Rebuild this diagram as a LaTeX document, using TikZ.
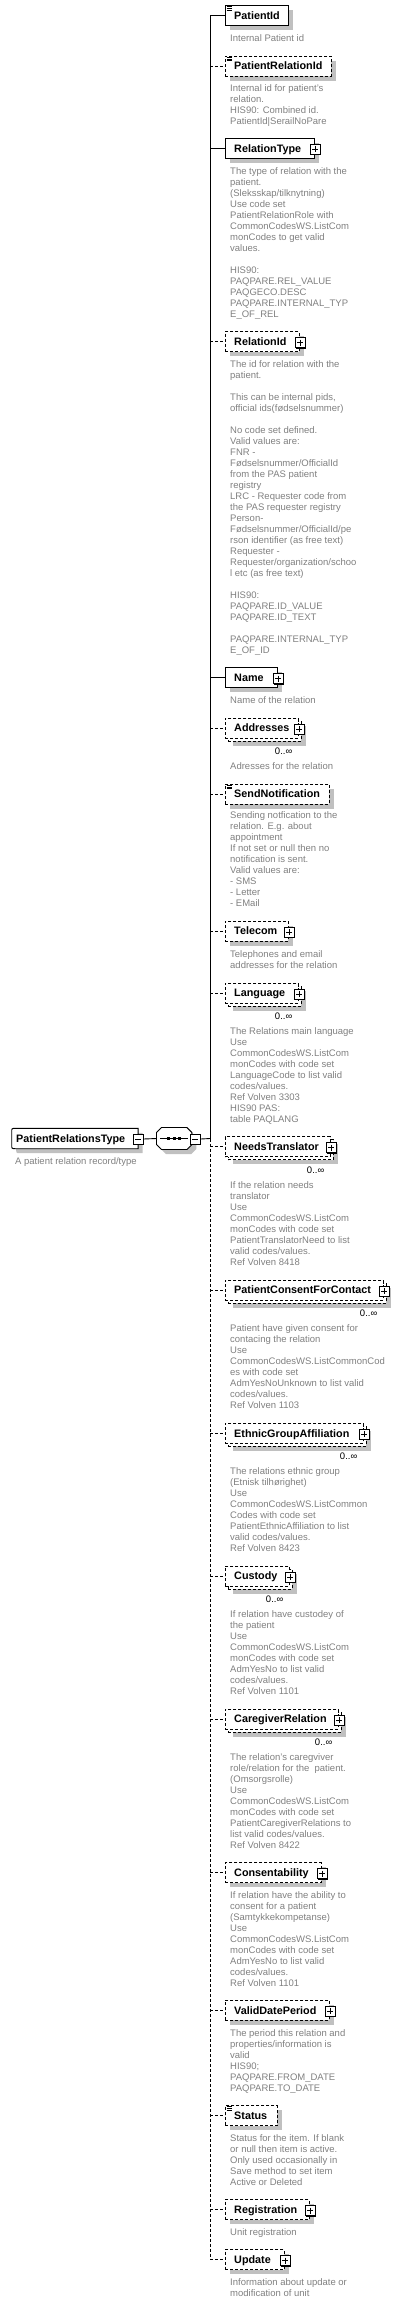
\documentclass[tikz,border=0pt]{standalone}
\usepackage{fontspec}
\setmainfont{Liberation Sans}
\usetikzlibrary{shadows}
\definecolor{descgray}{RGB}{128,128,128}
\definecolor{shadowgray}{RGB}{192,192,192}
\newcommand\namefont{\fontsize{10.8pt}{13pt}\selectfont\bfseries}
\newcommand\descfont{\fontsize{9.5pt}{11pt}\selectfont}
\tikzset{
  ebox/.style={draw, line width=0.9pt, fill=white, minimum height=20pt, inner sep=0pt, anchor=west},
  optbox/.style={dash pattern=on 3pt off 2pt},
  shad/.style={drop shadow={shadow xshift=4.5pt, shadow yshift=-4.5pt, fill=shadowgray, opacity=1}},
  ename/.style={font=\namefont, inner sep=0pt, anchor=base west},
  desc/.style={font=\descfont, text=descgray, inner sep=0pt, anchor=north west, align=left},
  mult/.style={font=\descfont, inner sep=0pt, anchor=east},
  conn/.style={line width=0.9pt},
  optconn/.style={line width=0.9pt, dash pattern=on 3pt off 2pt},
  iconbase/.style={draw, line width=0.8pt, fill=white, minimum size=10pt, inner sep=0pt,
    drop shadow={shadow xshift=1pt, shadow yshift=-1pt, fill=black, opacity=1}},
  plusicon/.style={iconbase, path picture={
    \draw[line width=0.8pt] ([xshift=2pt]path picture bounding box.west) -- ([xshift=-2pt]path picture bounding box.east);
    \draw[line width=0.8pt] ([yshift=-2pt]path picture bounding box.north) -- ([yshift=2pt]path picture bounding box.south);}},
  minusicon/.style={iconbase, path picture={
    \draw[line width=0.8pt] ([xshift=2pt]path picture bounding box.west) -- ([xshift=-2pt]path picture bounding box.east);}},
}
\newcommand\ElemS[5]{%
  \node[ebox,shad,#2,minimum width={#4-225}] (#1) at (225,#3) {};
  \node[ename] (#1t) at ([xshift=9pt,yshift=-3.9pt]#1.west) {#5};
  \coordinate (#1s) at (210,#3);}
\newcommand\ElemM[4]{%
  \node[ebox,shad,optbox,minimum width={#3-225}] (#1b) at (228,#2+3) {};
  \node[ebox,optbox,minimum width={#3-225}] (#1) at (225,#2) {};
  \node[ename] (#1t) at ([xshift=9pt,yshift=-3.9pt]#1.west) {#4};
  \node[mult] (#1m) at (#3-5.5,#2+23.3) {0..∞};
  \coordinate (#1s) at (210,#2);}
\newcommand\PlusOn[1]{\node[plusicon] (#1p) at ([xshift=0.5pt,yshift=-1pt]#1.east) {};}
\newcommand\SimpleOn[1]{%
  \draw[line width=0.6pt] ([xshift=1.5pt,yshift=-1.6pt]#1.north west) -- ++(5pt,0pt);
  \draw[line width=0.6pt] ([xshift=1.5pt,yshift=-3.3pt]#1.north west) -- ++(5pt,0pt);
  \draw[line width=0.6pt] ([xshift=1.5pt,yshift=-5pt]#1.north west) -- ++(5pt,0pt);}
\newcommand\Desc[3]{\node[desc] (#1d) at (230,#2-4.4) {\strut #3};}
\begin{document}
\begin{tikzpicture}[x=1pt,y=-1pt]
\useasboundingbox (0,0) rectangle (400,2303);

% ---- root ----
\node[inner sep=0pt, minimum width=126pt, minimum height=20pt, anchor=west] (root) at (11.7,1138.5) {};
\begin{scope}[transform canvas={shift={(4.5pt,-4.5pt)}}]
\fill[shadowgray] (root.north east) -- ([xshift=4pt]root.north west) .. controls (root.north west) .. ([yshift=-4pt]root.north west)
  -- ([yshift=4pt]root.south west) .. controls (root.south west) .. ([xshift=4pt]root.south west) -- (root.south east) -- cycle;
\end{scope}
\draw[line width=0.9pt, fill=white] (root.north east) -- ([xshift=4pt]root.north west) .. controls (root.north west) .. ([yshift=-4pt]root.north west)
  -- ([yshift=4pt]root.south west) .. controls (root.south west) .. ([xshift=4pt]root.south west) -- (root.south east) -- cycle;
\node[ename] (roott) at ([xshift=4.3pt,yshift=-3.9pt]root.west) {PatientRelationsType};
\node[minusicon] (rootm) at ([yshift=-0.5pt]root.east) {};
\node[desc] (rootd) at (15,1160.7-4.4) {\strut A patient relation record/type};

% ---- sequence ----
\node[inner sep=0pt, minimum width=35pt, minimum height=21.6pt] (seq) at (174.2,1138.5) {};
\begin{scope}[transform canvas={shift={(4.5pt,-4.5pt)}}]
\fill[shadowgray] ([xshift=5pt]seq.north west) -- ([xshift=-5pt]seq.north east) -- ([yshift=-5pt]seq.north east) -- ([yshift=5pt]seq.south east)
  -- ([xshift=-5pt]seq.south east) -- ([xshift=5pt]seq.south west) -- ([yshift=5pt]seq.south west) -- ([yshift=-5pt]seq.north west) -- cycle;
\end{scope}
\draw[line width=0.9pt, fill=white] ([xshift=5pt]seq.north west) -- ([xshift=-5pt]seq.north east) -- ([yshift=-5pt]seq.north east) -- ([yshift=5pt]seq.south east)
  -- ([xshift=-5pt]seq.south east) -- ([xshift=5pt]seq.south west) -- ([yshift=5pt]seq.south west) -- ([yshift=-5pt]seq.north west) -- cycle;
\draw[line width=0.9pt] ([xshift=3.5pt]seq.west) -- ([xshift=-3.5pt]seq.east);
\fill ([xshift=-7pt,yshift=-1.5pt]seq.center) rectangle ([xshift=-4pt,yshift=1.5pt]seq.center);
\fill ([xshift=-1.5pt,yshift=-1.5pt]seq.center) rectangle ([xshift=1.5pt,yshift=1.5pt]seq.center);
\fill ([xshift=4pt,yshift=-1.5pt]seq.center) rectangle ([xshift=7pt,yshift=1.5pt]seq.center);
\node[minusicon] (seqm) at ([xshift=3.3pt,yshift=-0.5pt]seq.east) {};
\coordinate (sj) at (210,1138.5);
\draw[conn] (rootm.east) -- (seq.west);
\draw[conn] (seqm.east) -- (sj);

% ---- children ----
\ElemS{e1}{}{15.5}{288}{PatientId}\SimpleOn{e1}
\Desc{e1}{37.7}{Internal Patient id}

\ElemS{e2}{optbox}{66}{331}{PatientRelationId}\SimpleOn{e2}
\Desc{e2}{88}{Internal id for patient's\\relation.\\HIS90: Combined id.\\PatientId|SerailNoPare}

\ElemS{e3}{}{148.3}{314}{RelationType}\PlusOn{e3}
\Desc{e3}{170.7}{The type of relation with the\\patient.\\(Sleksskap/tilknytning)\\Use code set\\PatientRelationRole with\\CommonCodesWS.ListCom\\monCodes to get valid\\values.\\[11pt]HIS90:\\PAQPARE.REL\_VALUE\\PAQGECO.DESC\\PAQPARE.INTERNAL\_TYP\\E\_OF\_REL}

\ElemS{e4}{optbox}{341.7}{299}{RelationId}\PlusOn{e4}
\Desc{e4}{364}{The id for relation with the\\patient.\\[11pt]This can be internal pids,\\official ids(fødselsnummer)\\[11pt]No code set defined.\\Valid values are:\\FNR -\\Fødselsnummer/OfficialId\\from the PAS patient\\registry\\LRC - Requester code from\\the PAS requester registry\\Person-\\Fødselsnummer/OfficialId/pe\\rson identifier (as free text)\\Requester -\\Requester/organization/schoo\\l etc (as free text)\\[11pt]HIS90:\\PAQPARE.ID\_VALUE\\PAQPARE.ID\_TEXT\\[11pt]PAQPARE.INTERNAL\_TYP\\E\_OF\_ID}

\ElemS{e5}{}{677.5}{277}{Name}\PlusOn{e5}
\Desc{e5}{700}{Name of the relation}

\ElemM{e6}{728}{298}{Addresses}\PlusOn{e6}
\Desc{e6}{765.7}{Adresses for the relation}

\ElemS{e7}{optbox}{794}{329}{SendNotification}\SimpleOn{e7}
\Desc{e7}{815.3}{Sending notfication to the\\relation. E.g. about\\appointment\\If not set or null then no\\notification is sent.\\Valid values are:\\- SMS\\- Letter\\- EMail}

\ElemS{e8}{optbox}{931}{288}{Telecom}\PlusOn{e8}
\Desc{e8}{953.7}{Telephones and email\\addresses for the relation}

\ElemM{e9}{993}{298}{Language}\PlusOn{e9}
\Desc{e9}{1031}{The Relations main language\\Use\\CommonCodesWS.ListCom\\monCodes with code set\\LanguageCode to list valid\\codes/values.\\Ref Volven 3303\\HIS90 PAS:\\table PAQLANG}

\ElemM{e10}{1146.5}{330}{NeedsTranslator}\PlusOn{e10}
\Desc{e10}{1185}{If the relation needs\\translator\\Use\\CommonCodesWS.ListCom\\monCodes with code set\\PatientTranslatorNeed to list\\valid codes/values.\\Ref Volven 8418}

\ElemM{e11}{1290}{383}{PatientConsentForContact}\PlusOn{e11}
\Desc{e11}{1328.3}{Patient have given consent for\\contacing the relation\\Use\\CommonCodesWS.ListCommonCod\\es with code set\\AdmYesNoUnknown to list valid\\codes/values.\\Ref Volven 1103}

\ElemM{e12}{1433.3}{363}{EthnicGroupAffiliation}\PlusOn{e12}
\Desc{e12}{1471}{The relations ethnic group\\(Etnisk tilhørighet)\\Use\\CommonCodesWS.ListCommon\\Codes with code set\\PatientEthnicAffiliation to list\\valid codes/values.\\Ref Volven 8423}

\ElemM{e13}{1576}{289}{Custody}\PlusOn{e13}
\Desc{e13}{1614}{If relation have custodey of\\the patient\\Use\\CommonCodesWS.ListCom\\monCodes with code set\\AdmYesNo to list valid\\codes/values.\\Ref Volven 1101}

\ElemM{e14}{1719}{338}{CaregiverRelation}\PlusOn{e14}
\Desc{e14}{1756.7}{The relation's caregviver\\role/relation for the\ \ patient.\\(Omsorgsrolle)\\Use\\CommonCodesWS.ListCom\\monCodes with code set\\PatientCaregiverRelations to\\list valid codes/values.\\Ref Volven 8422}

\ElemS{e15}{optbox}{1872.5}{321}{Consentability}\PlusOn{e15}
\Desc{e15}{1895}{If relation have the ability to\\consent for a patient\\(Samtykkekompetanse)\\Use\\CommonCodesWS.ListCom\\monCodes with code set\\AdmYesNo to list valid\\codes/values.\\Ref Volven 1101}

\ElemS{e16}{optbox}{2010.3}{329}{ValidDatePeriod}\PlusOn{e16}
\Desc{e16}{2032.7}{The period this relation and\\properties/information is\\valid\\HIS90;\\PAQPARE.FROM\_DATE\\PAQPARE.TO\_DATE}

\ElemS{e17}{optbox}{2115.5}{277}{Status}\SimpleOn{e17}
\Desc{e17}{2137.7}{Status for the item. If blank\\or null then item is active.\\Only used occasionally in\\Save method to set item\\Active or Deleted}

\ElemS{e18}{optbox}{2209.5}{309}{Registration}\PlusOn{e18}
\Desc{e18}{2231.7}{Unit registration}

\ElemS{e19}{optbox}{2259.5}{284}{Update}\PlusOn{e19}
\Desc{e19}{2281.7}{Information about update or\\modification of unit}

% ---- spine & connectors ----
\draw[conn] (e1s) -- (sj);
\draw[optconn] (sj) -- (e19s);
\draw[conn] (e1s) -- (e1.west);
\draw[optconn] (e2s) -- (e2.west);
\draw[conn] (e3s) -- (e3.west);
\draw[optconn] (e4s) -- (e4.west);
\draw[conn] (e5s) -- (e5.west);
\foreach \i in {6,7,8,9,10,11,12,13,14,15,16,17,18,19}{\draw[optconn] (e\i s) -- (e\i.west);}
\end{tikzpicture}
\end{document}
